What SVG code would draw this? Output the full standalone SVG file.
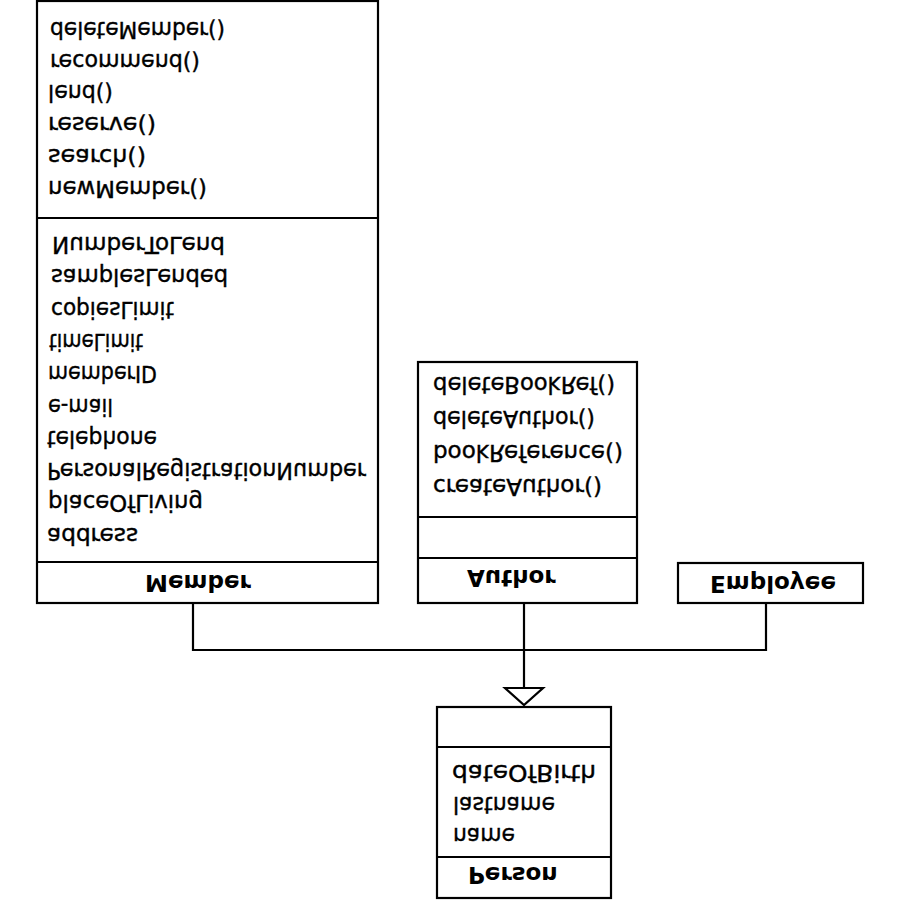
<svg xmlns="http://www.w3.org/2000/svg" width="900" height="900" viewBox="0 0 900 900">
<style>
.box{fill:#fff;stroke:#000;stroke-width:2.2}
.ln{fill:none;stroke:#000;stroke-width:2.2}
.t{font-family:"DejaVu Sans","Liberation Sans",sans-serif;font-size:23px;fill:#000;stroke:#000;stroke-width:0.4}
.h{font-family:"DejaVu Sans","Liberation Sans",sans-serif;font-size:23px;font-weight:bold;fill:#000}
</style>
<rect width="900" height="900" fill="#fff"/>
<g transform="matrix(1 0 0 -1 0 900)">
<g id="connectors">
<polyline class="ln" points="193,297 193,250 766,250 766,297"/>
<line class="ln" x1="524" y1="297" x2="524" y2="212"/>
<polygon class="box" points="505,212 543,212 524,195"/>
</g>
<g id="member">
<rect class="box" x="37" y="297" width="341" height="602"/>
<line class="ln" x1="37" y1="338" x2="378" y2="338"/>
<line class="ln" x1="37" y1="682" x2="378" y2="682"/>
<text class="h" x="145" y="325">Member</text>
<text class="t" x="47" y="372" textLength="91" lengthAdjust="spacingAndGlyphs">address</text>
<text class="t" x="48" y="404.6" textLength="155" lengthAdjust="spacingAndGlyphs">placeOfLiving</text>
<text class="t" x="47" y="436.9" textLength="319" lengthAdjust="spacingAndGlyphs">PersonalRegistrationNumber</text>
<text class="t" x="47" y="469.2" textLength="110" lengthAdjust="spacingAndGlyphs">telephone</text>
<text class="t" x="48" y="501.5" textLength="65" lengthAdjust="spacingAndGlyphs">e-mail</text>
<text class="t" x="48" y="533.8" textLength="109" lengthAdjust="spacingAndGlyphs">memberID</text>
<text class="t" x="49" y="566.1" textLength="94" lengthAdjust="spacingAndGlyphs">timeLimit</text>
<text class="t" x="51" y="598.4" textLength="123" lengthAdjust="spacingAndGlyphs">copiesLimit</text>
<text class="t" x="51" y="630.7" textLength="177" lengthAdjust="spacingAndGlyphs">samplesLended</text>
<text class="t" x="52" y="663" textLength="173" lengthAdjust="spacingAndGlyphs">NumberToLend</text>
<text class="t" x="48" y="719" textLength="159" lengthAdjust="spacingAndGlyphs">newMember()</text>
<text class="t" x="48" y="751" textLength="98" lengthAdjust="spacingAndGlyphs">search()</text>
<text class="t" x="48" y="783" textLength="108" lengthAdjust="spacingAndGlyphs">reserve()</text>
<text class="t" x="48" y="815" textLength="65" lengthAdjust="spacingAndGlyphs">lend()</text>
<text class="t" x="50" y="846" textLength="150" lengthAdjust="spacingAndGlyphs">recommend()</text>
<text class="t" x="50" y="878" textLength="175" lengthAdjust="spacingAndGlyphs">deleteMember()</text>
</g>
<g id="author">
<rect class="box" x="418" y="297" width="219" height="241"/>
<line class="ln" x1="418" y1="342" x2="637" y2="342"/>
<line class="ln" x1="418" y1="383" x2="637" y2="383"/>
<text class="h" x="467" y="330">Author</text>
<text class="t" x="433" y="421" textLength="169" lengthAdjust="spacingAndGlyphs">createAuthor()</text>
<text class="t" x="433" y="455" textLength="190" lengthAdjust="spacingAndGlyphs">bookReference()</text>
<text class="t" x="433" y="489" textLength="162" lengthAdjust="spacingAndGlyphs">deleteAuthor()</text>
<text class="t" x="433" y="523" textLength="182" lengthAdjust="spacingAndGlyphs">deleteBookRef()</text>
</g>
<g id="employee">
<rect class="box" x="678" y="297" width="185" height="40"/>
<text class="h" x="710" y="324">Employee</text>
</g>
<g id="person">
<rect class="box" x="437" y="2" width="174" height="191"/>
<line class="ln" x1="437" y1="43" x2="611" y2="43"/>
<line class="ln" x1="437" y1="153" x2="611" y2="153"/>
<text class="h" x="468" y="33">Person</text>
<text class="t" x="453" y="72" textLength="62" lengthAdjust="spacingAndGlyphs">name</text>
<text class="t" x="453" y="103" textLength="102" lengthAdjust="spacingAndGlyphs">lastname</text>
<text class="t" x="452" y="135" textLength="144" lengthAdjust="spacingAndGlyphs">dateOfBirth</text>
</g>
</g>
</svg>
